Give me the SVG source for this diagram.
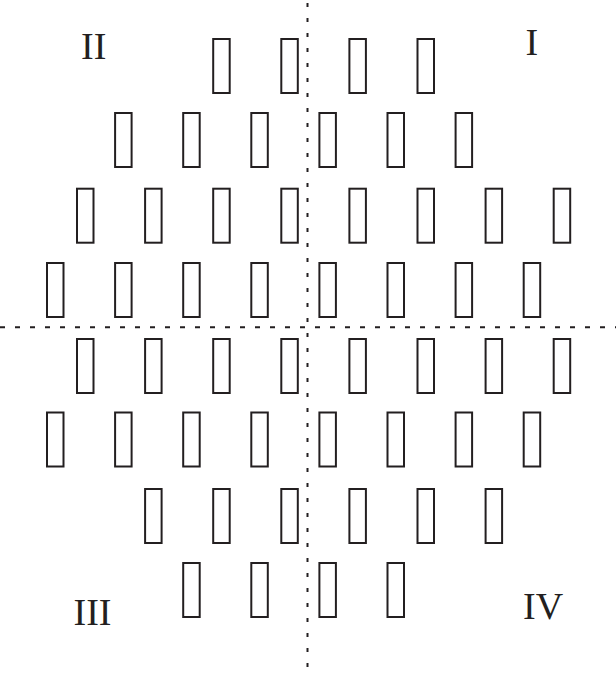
<svg xmlns="http://www.w3.org/2000/svg" width="616" height="678" viewBox="0 0 616 678">
<style>
.cell{fill:none;stroke:#231f20;stroke-width:2}
.axis{fill:none;stroke:#231f20;stroke-width:2}
.lbl{font-family:"Liberation Serif","Times New Roman",serif;font-size:38px;fill:#231f20}
</style>
<defs>
<rect id="c" class="cell" x="0" y="0" width="16.5" height="54"/>
</defs>
<rect width="616" height="678" fill="#fff"/>
<g id="axes">
<line class="axis" x1="307.5" y1="3" x2="307.5" y2="678" stroke-dasharray="4 11"/>
<line class="axis" x1="0" y1="327.3" x2="616" y2="327.3" stroke-dasharray="5 10"/>
</g>
<g id="row1" transform="translate(1,39)">
<use href="#c" x="212.2"/><use href="#c" x="280.3"/><use href="#c" x="348.4"/><use href="#c" x="416.5"/>
</g>
<g id="row2" transform="translate(1,113)">
<use href="#c" x="114.1"/><use href="#c" x="182.2"/><use href="#c" x="250.3"/><use href="#c" x="318.4"/><use href="#c" x="386.5"/><use href="#c" x="454.6"/>
</g>
<g id="row3" transform="translate(1,188.7)">
<use href="#c" x="76"/><use href="#c" x="144.1"/><use href="#c" x="212.2"/><use href="#c" x="280.3"/><use href="#c" x="348.4"/><use href="#c" x="416.5"/><use href="#c" x="484.6"/><use href="#c" x="552.7"/>
</g>
<g id="row4" transform="translate(1,263)">
<use href="#c" x="46"/><use href="#c" x="114.1"/><use href="#c" x="182.2"/><use href="#c" x="250.3"/><use href="#c" x="318.4"/><use href="#c" x="386.5"/><use href="#c" x="454.6"/><use href="#c" x="522.7"/>
</g>
<g id="row5" transform="translate(1,339)">
<use href="#c" x="76"/><use href="#c" x="144.1"/><use href="#c" x="212.2"/><use href="#c" x="280.3"/><use href="#c" x="348.4"/><use href="#c" x="416.5"/><use href="#c" x="484.6"/><use href="#c" x="552.7"/>
</g>
<g id="row6" transform="translate(1,412.5)">
<use href="#c" x="46"/><use href="#c" x="114.1"/><use href="#c" x="182.2"/><use href="#c" x="250.3"/><use href="#c" x="318.4"/><use href="#c" x="386.5"/><use href="#c" x="454.6"/><use href="#c" x="522.7"/>
</g>
<g id="row7" transform="translate(1,489)">
<use href="#c" x="144.1"/><use href="#c" x="212.2"/><use href="#c" x="280.3"/><use href="#c" x="348.4"/><use href="#c" x="416.5"/><use href="#c" x="484.6"/>
</g>
<g id="row8" transform="translate(1,563)">
<use href="#c" x="182.2"/><use href="#c" x="250.3"/><use href="#c" x="318.4"/><use href="#c" x="386.5"/>
</g>
<g id="labels">
<text class="lbl" x="81" y="59">II</text>
<text class="lbl" x="525.5" y="55">I</text>
<text class="lbl" x="73.5" y="625">III</text>
<text class="lbl" x="523" y="619">IV</text>
</g>
</svg>
